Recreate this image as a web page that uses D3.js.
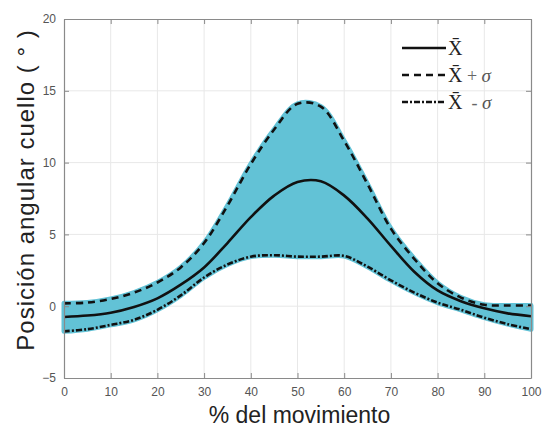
<!DOCTYPE html>
<html>
<head>
<meta charset="utf-8">
<script src="https://cdn.jsdelivr.net/npm/d3@7"></script>
<style>
  body { margin: 0; background: #fff; }
  text { font-family: "Liberation Sans", Arial, sans-serif; }
</style>
</head>
<body>
<svg id="chart" width="544" height="432"></svg>
<script>
// Data
const pct   = [0, 5, 10, 15, 20, 25, 30, 35, 40, 45, 50, 55, 60, 65, 70, 75, 80, 85, 90, 95, 100];
const mean  = [-0.75, -0.65, -0.45, -0.05, 0.55, 1.5, 2.7, 4.4, 6.2, 7.7, 8.65, 8.7, 7.7, 6.1, 4.2, 2.4, 1.1, 0.35, -0.15, -0.5, -0.7];
const upper = [0.2, 0.25, 0.5, 0.95, 1.65, 2.7, 4.4, 7.0, 9.9, 12.3, 14.1, 13.9, 11.5, 8.5, 5.4, 3.3, 1.6, 0.6, 0.1, 0.05, 0.05];
const lower = [-1.75, -1.6, -1.3, -0.95, -0.25, 0.75, 2.0, 2.9, 3.45, 3.55, 3.45, 3.45, 3.5, 2.75, 1.8, 0.95, 0.25, -0.25, -0.8, -1.25, -1.6];
const xTicks = [0, 10, 20, 30, 40, 50, 60, 70, 80, 90, 100];
const yTicks = [-5, 0, 5, 10, 15, 20];
const legendLabels = ["", " + ", "  - "];

const bandColor = "#62c2d6";

var svg = d3.select("#chart"),
  margin = {top: 19, left: 64, bottom: 54, right: 13},
  width = +svg.attr("width"),
  height = +svg.attr("height");

let x = d3.scaleLinear().domain([0, 100]).range([margin.left, width - margin.right]);
let y = d3.scaleLinear().domain([-5, 20]).range([height - margin.bottom, margin.top]);

let rows = pct.map((p, i) => ({p: p, m: mean[i], u: upper[i], l: lower[i]}));

// grid
svg.append("g").selectAll("line.gx")
  .data(xTicks.slice(1, -1)).enter().append("line")
  .attr("x1", d => x(d)).attr("x2", d => x(d))
  .attr("y1", y(-5)).attr("y2", y(20))
  .attr("stroke", "#e8e8e8").attr("stroke-width", 1);
svg.append("g").selectAll("line.gy")
  .data(yTicks.slice(1, -1)).enter().append("line")
  .attr("y1", d => y(d)).attr("y2", d => y(d))
  .attr("x1", x(0)).attr("x2", x(100))
  .attr("stroke", "#e8e8e8").attr("stroke-width", 1);

// band
let curve = d3.curveCatmullRom.alpha(0.5);
let area = d3.area().x(d => x(d.p)).y0(d => y(d.l)).y1(d => y(d.u)).curve(curve);
svg.append("path").datum(rows)
  .attr("d", area)
  .attr("fill", bandColor)
  .attr("stroke", bandColor)
  .attr("stroke-width", 5)
  .attr("stroke-linejoin", "round");

// lines
const series = [
  {key: "m", dash: null},
  {key: "u", dash: "7,5"},
  {key: "l", dash: "6,2,2,2"}
];
series.forEach(s => {
  let line = d3.line().x(d => x(d.p)).y(d => y(d[s.key])).curve(curve);
  svg.append("path").datum(rows)
    .attr("d", line)
    .attr("fill", "none")
    .attr("stroke", "#111")
    .attr("stroke-width", 2.6)
    .attr("stroke-dasharray", s.dash);
});

// axes
let axisColor = "#8a8a8a";
let gx = svg.append("g").attr("transform", `translate(0,${y(-5)})`)
  .call(d3.axisBottom(x).tickValues(xTicks).tickSizeInner(-5).tickSizeOuter(0).tickPadding(9));
let gxt = svg.append("g").attr("transform", `translate(0,${y(20)})`)
  .call(d3.axisTop(x).tickValues(xTicks).tickSizeInner(-5).tickSizeOuter(0).tickFormat(""));
let gy = svg.append("g").attr("transform", `translate(${x(0)},0)`)
  .call(d3.axisLeft(y).tickValues(yTicks).tickSizeInner(-5).tickSizeOuter(0).tickPadding(8));
let gyr = svg.append("g").attr("transform", `translate(${x(100)},0)`)
  .call(d3.axisRight(y).tickValues(yTicks).tickSizeInner(-5).tickSizeOuter(0).tickFormat(""));

[gx, gxt, gy, gyr].forEach(g => {
  g.select(".domain").attr("stroke", axisColor).attr("stroke-width", 1.2);
  g.selectAll(".tick line").attr("stroke", axisColor);
  g.selectAll(".tick text")
    .attr("fill", "#555")
    .style("font-size", "12px")
    .style("font-family", "'Liberation Sans', Arial, sans-serif");
});

// axis labels
svg.append("text")
  .attr("x", (x(0) + x(100)) / 2 + 2)
  .attr("y", 423)
  .attr("text-anchor", "middle")
  .style("font-size", "23px")
  .attr("fill", "#222")
  .text("% del movimiento");

svg.append("text")
  .attr("transform", "translate(34,190) rotate(-90)")
  .attr("text-anchor", "middle")
  .style("font-size", "24px")
  .style("letter-spacing", "1px")
  .attr("fill", "#222")
  .text("Posición angular cuello ( ° )");

// legend
let lg = svg.append("g").attr("transform", "translate(402,48)");
series.forEach((s, i) => {
  let row = lg.append("g").attr("transform", `translate(0,${i * 27})`);
  row.append("line")
    .attr("x1", 0).attr("x2", 44).attr("y1", 0).attr("y2", 0)
    .attr("stroke", "#111").attr("stroke-width", 2.6)
    .attr("stroke-dasharray", s.dash);
  let t = row.append("text")
    .attr("x", 46).attr("y", 7)
    .style("font-family", "'Liberation Serif', 'DejaVu Serif', serif")
    .style("font-size", "20px")
    .attr("fill", "#222");
  t.append("tspan").text("X\u0304");
  if (i > 0) {
    t.append("tspan").style("font-size", "18px").attr("fill", "#666")
      .attr("xml:space", "preserve").text(legendLabels[i]);
    t.append("tspan").style("font-size", "19px").style("font-style", "italic")
      .attr("fill", "#555").text("σ");
  }
});
</script>
</body>
</html>
